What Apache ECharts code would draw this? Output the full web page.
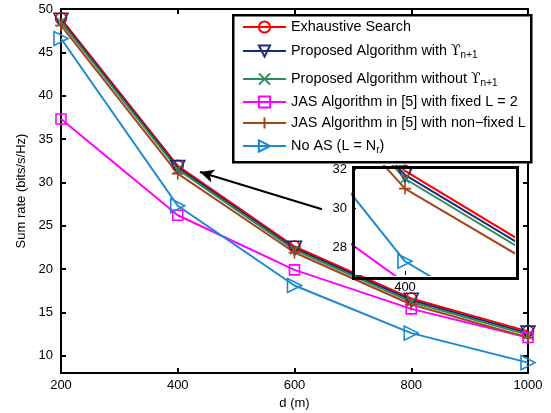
<!DOCTYPE html>
<html>
<head>
<meta charset="utf-8">
<script src="https://cdn.jsdelivr.net/npm/echarts@6/dist/echarts.min.js"></script>
<style>
  html, body { margin: 0; padding: 0; background: #fff; }
  #chart { width: 551px; height: 413px; }
</style>
</head>
<body>
<div id="chart"></div>
<script>
// distances (m)
var dist = [200, 400, 600, 800, 1000];
// sum rate (bits/s/Hz)
var exhaustive  = [48.9, 31.9, 22.6, 16.6, 12.8];
var withU       = [48.7, 31.7, 22.4, 16.4, 12.6];
var withoutU    = [48.5, 31.5, 22.2, 16.2, 12.4];
var jasFixed    = [37.3, 26.2, 19.9, 15.4, 12.1];
var jasNonFixed = [48.1, 31.0, 21.9, 15.9, 12.1];
var noAS        = [46.6, 27.3, 18.1, 12.6, 9.2];

var yTicks = [10, 15, 20, 25, 30, 35, 40, 45, 50];
var insetYTicks = [28, 30, 32];
var insetXTicks = [400];

var names = [
  'Exhaustive Search',
  'Proposed Algorithm with',
  'Proposed Algorithm without',
  'JAS Algorithm in [5] with fixed L = 2',
  'JAS Algorithm in [5] with non\u2212fixed L',
  'No AS'
];
var values = [exhaustive, withU, withoutU, jasFixed, jasNonFixed, noAS];

var font = 'Liberation Sans, Arial, DejaVu Sans, sans-serif';

// marker look for each curve
var looks = [
  { color: '#ff0000', symbol: 'circle', size: 11, rot: 0 },
  { color: '#1b2a78', symbol: 'triangle', size: 14, rot: 180 },
  { color: '#2e8b57', symbol: 'path://M0,0L10,10M10,0L0,10', size: 9, rot: 0 },
  { color: '#ff00ff', symbol: 'rect', size: 10, rot: 0 },
  { color: '#a5451b', symbol: 'path://M5,0L5,10M0,5L10,5', size: 12, rot: 0 },
  { color: '#1b88d0', symbol: 'triangle', size: 14, rot: -90 }
];

function pairs(ys) {
  return dist.map(function (d, i) { return [d, ys[i]]; });
}

var series = [];
// main plot
names.forEach(function (n, i) {
  var lk = looks[i];
  series.push({
    name: n, type: 'line', xAxisIndex: 0, yAxisIndex: 0,
    data: pairs(values[i]),
    symbol: lk.symbol, symbolSize: lk.size, symbolRotate: lk.rot,
    showAllSymbol: true,
    lineStyle: { color: lk.color, width: 2 },
    itemStyle: { color: 'rgba(0,0,0,0)', borderColor: lk.color, borderWidth: 1.6 },
    emphasis: { disabled: true },
    z: 2
  });
});
// zoomed inset
names.forEach(function (n, i) {
  var lk = looks[i];
  series.push({
    name: n, type: 'line', xAxisIndex: 2, yAxisIndex: 2,
    data: pairs(values[i]),
    symbol: lk.symbol, symbolSize: lk.size, symbolRotate: lk.rot,
    clip: true,
    lineStyle: { color: lk.color, width: 2 },
    itemStyle: { color: 'rgba(0,0,0,0)', borderColor: lk.color, borderWidth: 1.6 },
    emphasis: { disabled: true },
    z: 6
  });
});

// arrow pointing to the zoomed region
series[0].markLine = {
  silent: true,
  symbol: ['arrow', 'none'],
  symbolSize: [10, 14],
  label: { show: false },
  lineStyle: { color: '#000', width: 2, type: 'solid' },
  data: [[{ coord: [438, 31.2] }, { coord: [647, 26.9] }]]
};

var legendRows = [27, 51, 79, 102, 123, 146];
var legends = names.map(function (n, i) {
  return {
    data: [n], left: 242, top: legendRows[i] - 7, padding: 0,
    itemWidth: 43, itemHeight: 14, itemGap: 5,
    selectedMode: false,
    textStyle: {
      fontFamily: font, fontSize: 14.4, color: '#000',
      rich: {
        sub: { fontFamily: font, fontSize: 10, verticalAlign: 'bottom', padding: [9, 0, 0, 0] },
        up: { fontFamily: 'DejaVu Serif', fontSize: 14 }
      }
    },
    formatter: function (name) {
      if (name === 'Proposed Algorithm with' || name === 'Proposed Algorithm without') {
        return name + ' {up|\u03d2}{sub|n+1}';
      }
      if (name === 'No AS') return 'No AS (L = N{sub|r})';
      return name;
    },
    z: 6
  };
});

var axisLabel = { fontFamily: font, fontSize: 13, color: '#000' };
function plain(v) { return String(v); }

var option = {
  animation: false,
  backgroundColor: '#fff',
  legend: legends,
  grid: [
    { left: 61, top: 9, width: 467, height: 364, outerBoundsMode: 'none',
      show: true, borderColor: '#000', borderWidth: 2 },
    { left: 352, top: 166, width: 162, height: 109, outerBoundsMode: 'none' }
  ],
  xAxis: [
    {
      type: 'value', gridIndex: 0, min: 200, max: 1000, interval: 200,
      name: 'd (m)', nameLocation: 'middle', nameGap: 20,
      nameTextStyle: { fontFamily: font, fontSize: 13, color: '#000' },
      axisLine: { lineStyle: { color: '#000', width: 2 } },
      axisTick: { inside: true, length: 5, lineStyle: { color: '#000', width: 2 } },
      axisLabel: Object.assign({ formatter: plain, margin: 6 }, axisLabel),
      splitLine: { show: false }
    },
    {
      type: 'value', gridIndex: 0, position: 'top', min: 200, max: 1000, interval: 200,
      axisLine: { lineStyle: { color: '#000', width: 2 } },
      axisTick: { inside: true, length: 5, lineStyle: { color: '#000', width: 2 } },
      axisLabel: { show: false }, splitLine: { show: false }
    },
    {
      type: 'value', gridIndex: 1, min: 365, max: 472,
      axisLine: { show: false },
      axisTick: { inside: true, length: 4, customValues: insetXTicks, lineStyle: { color: '#000' } },
      axisLabel: Object.assign({ customValues: insetXTicks, margin: 6 }, axisLabel),
      splitLine: { show: false }, z: 8
    }
  ],
  yAxis: [
    {
      type: 'value', gridIndex: 0, min: 8, max: 50,
      name: 'Sum rate (bits/s/Hz)', nameLocation: 'middle', nameGap: 29,
      nameTextStyle: { fontFamily: font, fontSize: 13, color: '#000' },
      axisLine: { lineStyle: { color: '#000', width: 2 } },
      axisTick: { inside: true, length: 5, customValues: yTicks, lineStyle: { color: '#000', width: 2 } },
      axisLabel: Object.assign({ customValues: yTicks }, axisLabel),
      splitLine: { show: false }
    },
    {
      type: 'value', gridIndex: 0, position: 'right', min: 8, max: 50,
      axisLine: { lineStyle: { color: '#000', width: 2 } },
      axisTick: { inside: true, length: 5, customValues: yTicks, lineStyle: { color: '#000', width: 2 } },
      axisLabel: { show: false }, splitLine: { show: false }
    },
    {
      type: 'value', gridIndex: 1, min: 26.6, max: 32.15,
      axisLine: { show: false },
      axisTick: { inside: true, length: 4, customValues: insetYTicks, lineStyle: { color: '#000' } },
      axisLabel: Object.assign({ customValues: insetYTicks, margin: 5 }, axisLabel),
      splitLine: { show: false }, z: 8
    }
  ],
  graphic: [
    // legend box
    { type: 'rect', left: 232, top: 14, shape: { width: 298, height: 147 },
      style: { fill: '#fff', stroke: '#000', lineWidth: 2.5 }, z: 3 },
    // inset background and frame
    { type: 'rect', left: 352, top: 166, shape: { width: 162, height: 109 },
      style: { fill: '#fff' }, z: 5 },
    { type: 'rect', left: 351, top: 165, shape: { width: 164, height: 111 },
      style: { fill: 'none', stroke: '#000', lineWidth: 3 }, z: 7 }
  ],
  series: series
};

var chart = echarts.init(document.getElementById('chart'));
chart.setOption(option);
</script>
</body>
</html>
